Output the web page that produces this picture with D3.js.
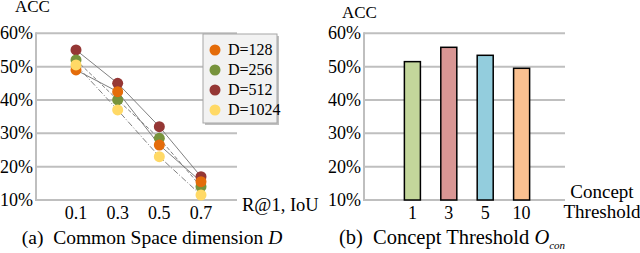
<!DOCTYPE html>
<html>
<head>
<meta charset="utf-8">
<script src="https://cdn.jsdelivr.net/npm/d3@7"></script>
<style>
  body { margin: 0; background: #fff; }
</style>
</head>
<body>
<svg id="chart" width="640" height="253"></svg>
<script>
// Left panel: R@1 at several IoU thresholds, one series per dimension D
const iouLabels = ['0.1', '0.3', '0.5', '0.7'];
const seriesNames = ['D=128', 'D=256', 'D=512', 'D=1024'];
const d128 = [49, 42.5, 26.5, 15.5];
const d256 = [52, 40, 28.5, 14];
const d512 = [55, 45, 32, 17];
const d1024 = [50.5, 37, 23, 11.5];

// Right panel: concept threshold bars
const thresholdLabels = ['1', '3', '5', '10'];
const thresholdValues = [51.5, 55.8, 53.4, 49.5];

const yTicks = [10, 20, 30, 40, 50, 60];

const svg = d3.select('#chart');
const serif = 'Liberation Serif';
const gridColor = '#bfbfbf';

// shared y scale
const y = d3.scaleLinear().domain([10, 60]).range([200, 33.3]);

function label(x, yy, txt, size, anchor) {
    return svg.append('text')
        .attr('x', x).attr('y', yy)
        .attr('font-family', serif)
        .attr('font-size', size || 17)
        .attr('text-anchor', anchor || 'start')
        .text(txt);
}

function drawGrid(x0, x1) {
    const g = svg.append('g');
    g.selectAll('line.grid')
        .data(yTicks)
        .enter()
        .append('line')
        .attr('x1', x0)
        .attr('x2', x1)
        .attr('y1', d => y(d))
        .attr('y2', d => y(d))
        .attr('stroke', gridColor)
        .attr('stroke-width', 2);
    // vertical axis line
    g.append('line')
        .attr('x1', x0).attr('x2', x0)
        .attr('y1', y(60) - 1).attr('y2', y(10) + 1)
        .attr('stroke', gridColor)
        .attr('stroke-width', 2);
    yTicks.forEach(d => label(x0 - 3, y(d) + 6, d + '%', 18, 'end'));
}

// ---------- (a) line chart ----------
drawGrid(36, 237);

const xa = d3.scalePoint().domain(iouLabels).range([76, 201]);

const series = [
    { name: seriesNames[0], values: d128, color: '#e46c0a', dash: null },
    { name: seriesNames[1], values: d256, color: '#77933c', dash: '4,2' },
    { name: seriesNames[2], values: d512, color: '#953735', dash: null },
    { name: seriesNames[3], values: d1024, color: '#ffd966', dash: '6,2,1,2' }
];

const line = d3.line()
    .x((d, i) => xa(iouLabels[i]))
    .y(d => y(d));

svg.append('g').selectAll('path')
    .data(series)
    .enter()
    .append('path')
    .attr('d', s => line(s.values))
    .attr('fill', 'none')
    .attr('stroke', '#808080')
    .attr('stroke-width', 1)
    .attr('stroke-dasharray', s => s.dash);

// markers, drawn so the stacking matches the picture
const drawOrder = [2, 1, 0, 3];
drawOrder.forEach(k => {
    const s = series[k];
    svg.append('g').selectAll('circle')
        .data(s.values)
        .enter()
        .append('circle')
        .attr('cx', (d, i) => xa(iouLabels[i]))
        .attr('cy', d => y(d))
        .attr('r', 5.5)
        .attr('fill', s.color);
});

iouLabels.forEach(d => label(xa(d), 219, d, 18, 'middle'));

label(15, 12, 'ACC', 17);
label(242, 211, 'R@1, IoU', 18.5);

// legend
const legend = svg.append('g').attr('transform', 'translate(203,34)');
legend.append('rect')
    .attr('x', 2).attr('y', 2).attr('width', 74).attr('height', 89)
    .attr('fill', '#bfbfbf');
legend.append('rect')
    .attr('width', 74).attr('height', 89)
    .attr('fill', '#f2f2f2')
    .attr('stroke', '#a6a6a6')
    .attr('stroke-width', 1);
legend.selectAll('circle')
    .data(series)
    .enter()
    .append('circle')
    .attr('cx', 12)
    .attr('cy', (d, i) => 16 + i * 20)
    .attr('r', 5.5)
    .attr('fill', d => d.color);
legend.selectAll('text')
    .data(series)
    .enter()
    .append('text')
    .attr('x', 25)
    .attr('y', (d, i) => 21 + i * 20)
    .attr('font-family', serif)
    .attr('font-size', 16)
    .text(d => d.name);

// caption (a)
const capA = label(152, 244, '', 19.5, 'middle').attr('xml:space', 'preserve');
capA.append('tspan').text('(a)  Common Space dimension ');
capA.append('tspan').attr('font-style', 'italic').text('D');

// ---------- (b) bar chart ----------
drawGrid(364, 565);

const xb = d3.scaleBand().domain(thresholdLabels).range([384, 550]).padding(0.56);
const barColors = ['#c3d69b', '#d99694', '#93cddd', '#fac090'];

svg.append('g').selectAll('rect')
    .data(thresholdValues)
    .enter()
    .append('rect')
    .attr('x', (d, i) => xb(thresholdLabels[i]))
    .attr('y', d => y(d))
    .attr('width', xb.bandwidth())
    .attr('height', d => y(10) - y(d))
    .attr('fill', (d, i) => barColors[i])
    .attr('stroke', '#000')
    .attr('stroke-width', 1.5);

thresholdLabels.forEach(d => label(xb(d) + xb.bandwidth() / 2, 219, d, 18, 'middle'));

label(342, 18, 'ACC', 17);
label(602, 198, 'Concept', 19, 'middle');
label(602, 218, 'Threshold', 19, 'middle');

const capB = label(452, 244, '', 20.5, 'middle').attr('xml:space', 'preserve');
capB.append('tspan').text('(b)  Concept Threshold ');
capB.append('tspan').attr('font-style', 'italic').text('O');
capB.append('tspan').attr('font-style', 'italic').attr('font-size', 11).attr('dy', 5).text('con');
</script>
</body>
</html>
